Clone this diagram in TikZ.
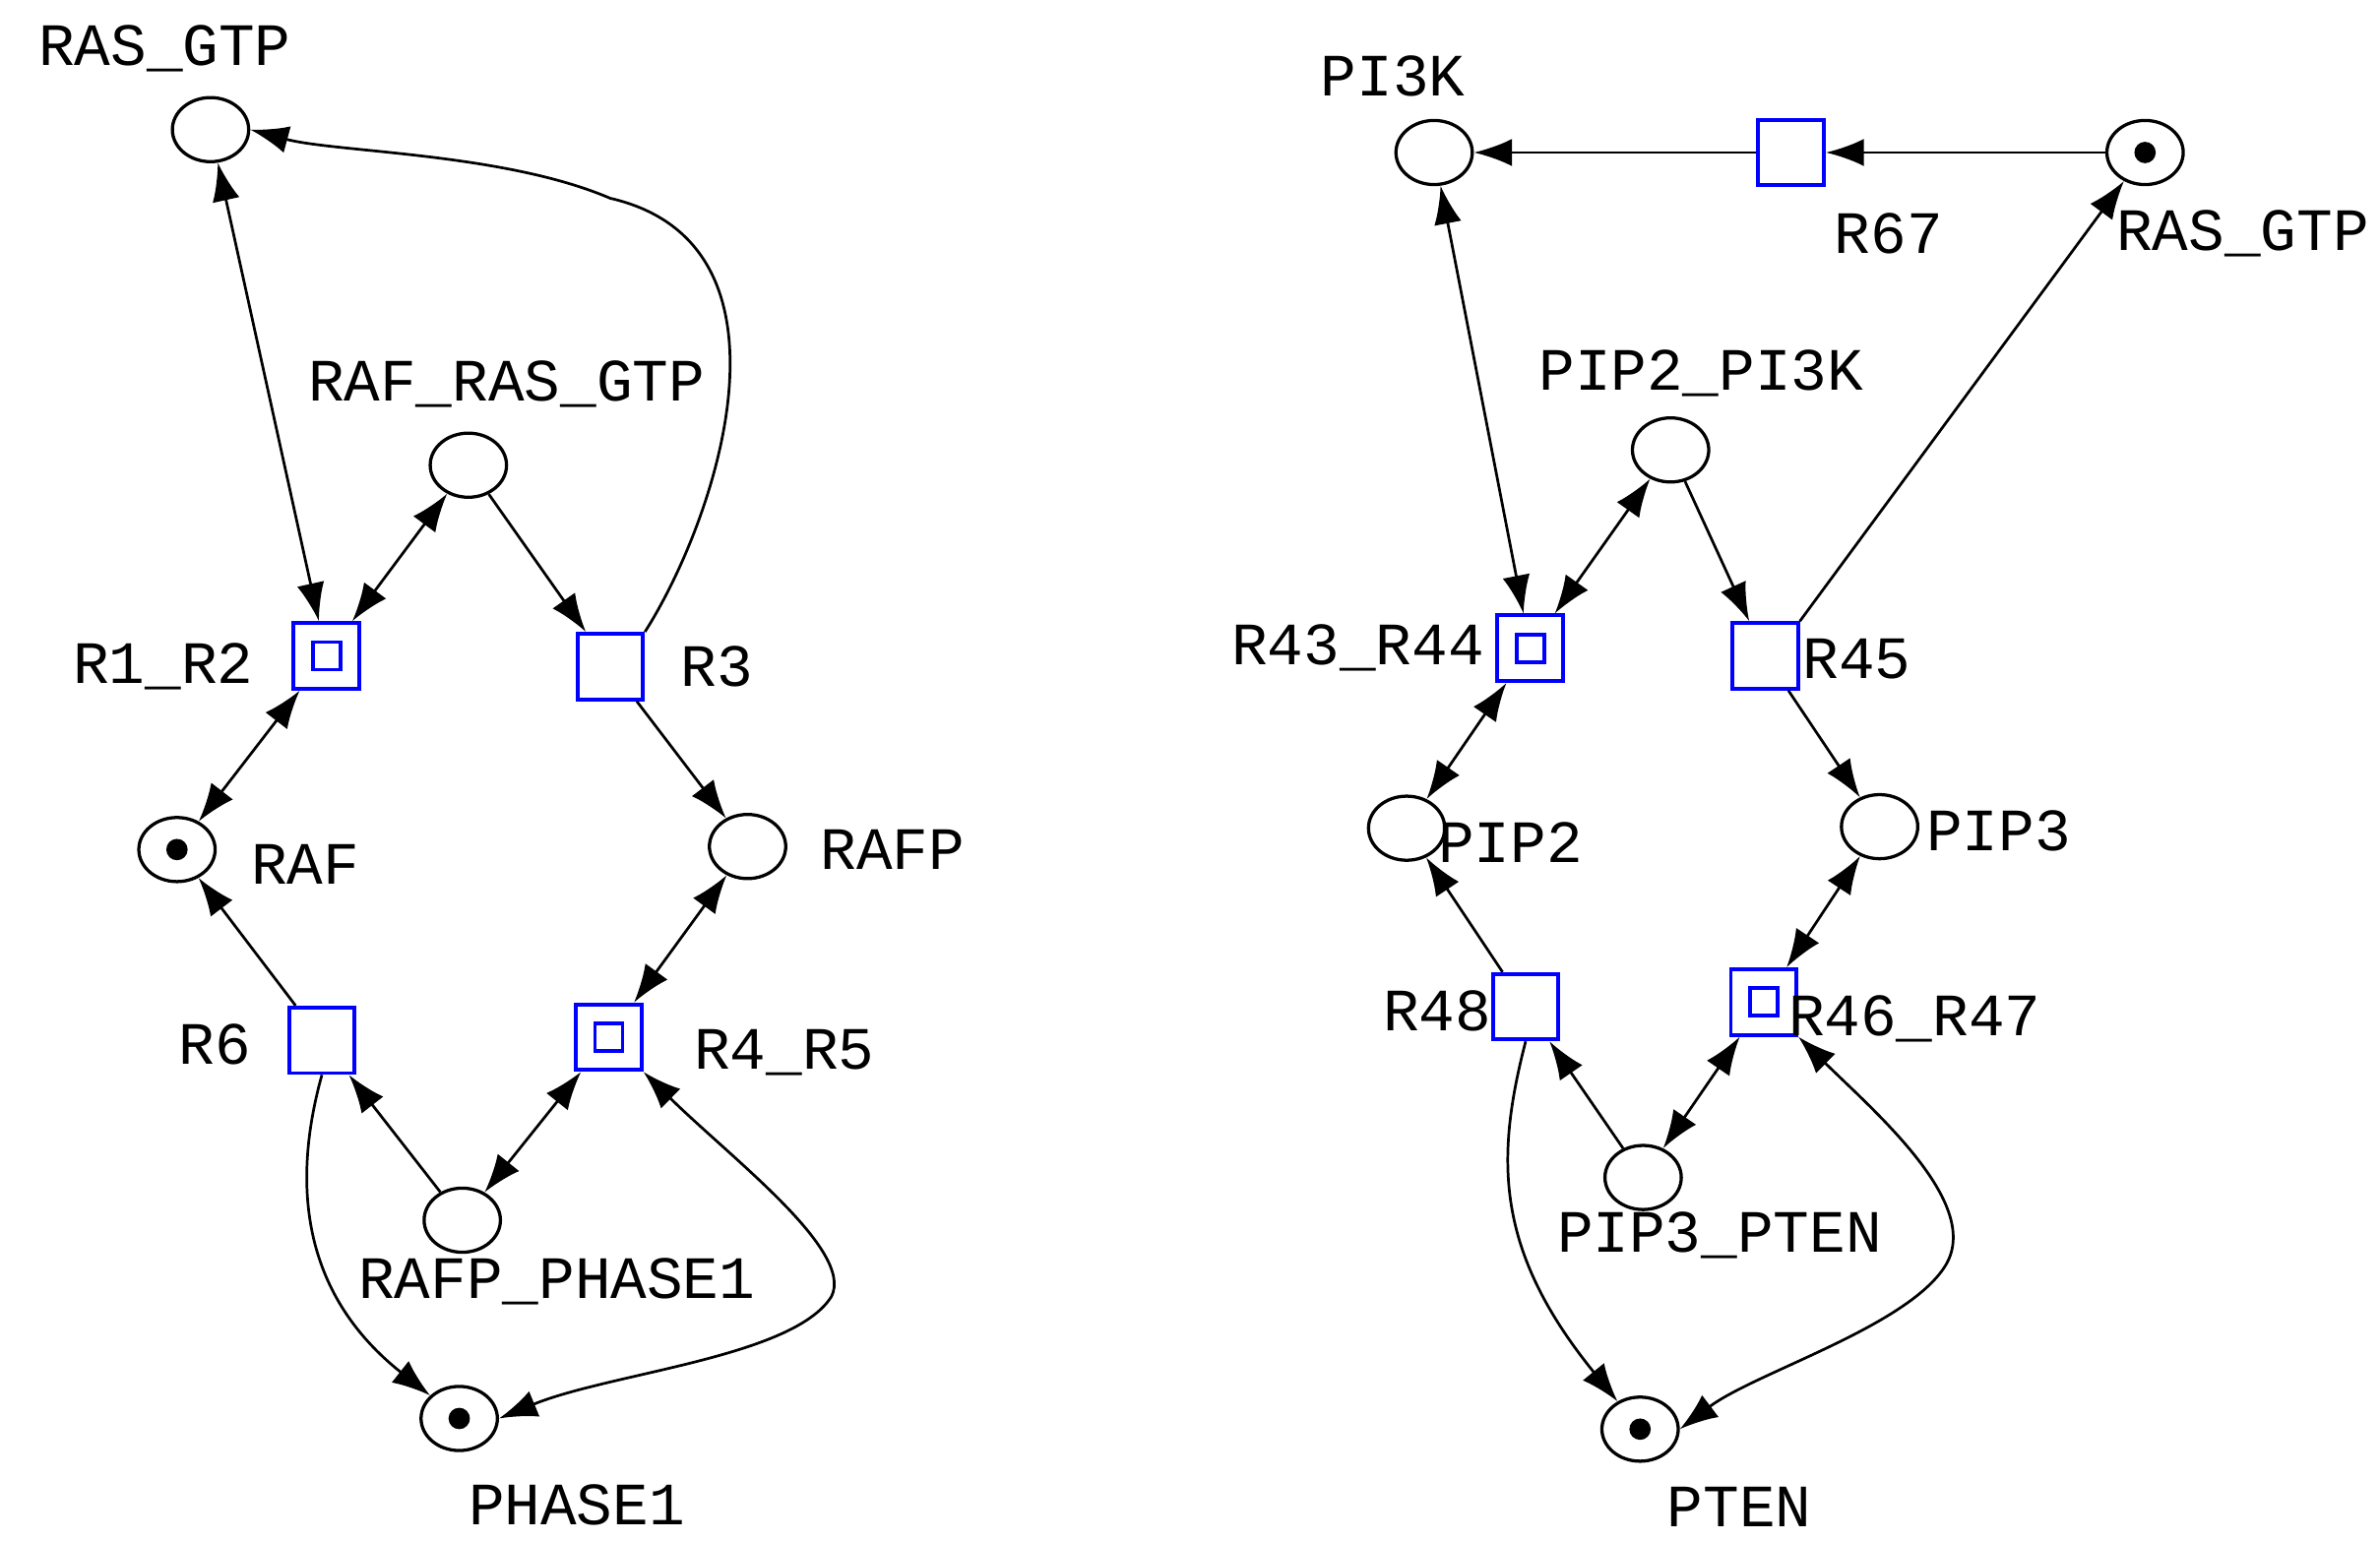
\documentclass[tikz,border=0pt]{standalone}
\usepackage{fontspec}
\setmainfont{Liberation Mono}
\usetikzlibrary{arrows.meta,shapes.geometric}
\begin{document}
\begin{tikzpicture}[x=0.01cm,y=-0.01cm,
 pl/.style={draw,ellipse,minimum width=0.5cm,minimum height=0.42cm,inner sep=0pt,line width=0.6pt},
 tk/.style={pl,path picture={\fill (path picture bounding box.center) circle (0.07cm);}},
 tr/.style={draw=blue,minimum size=0.43cm,inner sep=0pt,line width=0.7pt},
 dtr/.style={tr,path picture={\draw[blue,line width=0.7pt] ([shift={(-0.09cm,-0.09cm)}]path picture bounding box.center) rectangle ++(0.18cm,0.18cm);}},
 lb/.style={font=\fontsize{11.2}{12}\selectfont,inner sep=0pt},
 e/.style={-{Latex[length=0.25cm,width=0.18cm]},line width=0.5pt},
 b/.style={{Latex[length=0.25cm,width=0.18cm]}-{Latex[length=0.25cm,width=0.18cm]},line width=0.5pt}]
\useasboundingbox (0,0) rectangle (1560,1010);
% left net
\node[pl] (ras) at (138,85) {}; \node[lb] at (108,32) {RAS\_GTP};
\node[pl] (rrg) at (307,305) {}; \node[lb] at (332,252) {RAF\_RAS\_GTP};
\node[dtr] (r12) at (214,430) {}; \node[lb] at (107,437) {R1\_R2};
\node[tr] (r3) at (400,437) {}; \node[lb] at (470,437) {R3};
\node[tk] (raf) at (116,557) {}; \node[lb] at (200,567) {RAF};
\node[pl] (rafp) at (490,555) {}; \node[lb] at (585,557) {RAFP};
\node[tr] (r6) at (211,682) {}; \node[lb] at (141,685) {R6};
\node[dtr] (r45) at (399,680) {}; \node[lb] at (514,690) {R4\_R5};
\node[pl] (rph) at (303,800) {}; \node[lb] at (365,840) {RAFP\_PHASE1};
\node[tk] (ph) at (301,930) {}; \node[lb] at (378,987) {PHASE1};
\draw[b] (ras) -- (r12);
\draw[b] (rrg) -- (r12);
\draw[e] (rrg) -- (r3);
\draw[e] (r3.north east) .. controls (470,340) and (530,160) .. (400,130) .. controls (330,100) and (220,100) .. (ras.east);
\draw[b] (r12) -- (raf);
\draw[e] (r3) -- (rafp);
\draw[b] (rafp) -- (r45);
\draw[e] (r6) -- (raf);
\draw[e] (rph) -- (r6);
\draw[b] (rph) -- (r45);
\draw[e] (r6.south) .. controls (190,780) and (200,850) .. (ph);
\draw[b] (r45.south east) .. controls (480,760) and (560,820) .. (545,850) .. controls (520,890) and (400,900) .. (ph.east);
% right net
\node[pl] (pi3k) at (940,100) {}; \node[lb] at (913,50) {PI3K};
\node[tr] (r67) at (1174,100) {}; \node[lb] at (1238,153) {R67};
\node[tk] (ras2) at (1406,100) {}; \node[lb] at (1470,153) {RAS\_GTP};
\node[pl] (pp) at (1095,295) {}; \node[lb] at (1115,245) {PIP2\_PI3K};
\node[dtr] (r4344) at (1003,425) {}; \node[lb] at (890,425) {R43\_R44};
\node[tr] (r45b) at (1157,430) {}; \node[lb] at (1217,432) {R45};
\node[pl] (pip2) at (922,543) {}; \node[lb] at (990,552) {PIP2};
\node[pl] (pip3) at (1232,542) {}; \node[lb] at (1310,545) {PIP3};
\node[tr] (r48) at (1000,660) {}; \node[lb] at (942,663) {R48};
\node[dtr] (r4647) at (1156,657) {}; \node[lb] at (1255,668) {R46\_R47};
\node[pl] (ppt) at (1077,772) {}; \node[lb] at (1127,810) {PIP3\_PTEN};
\node[tk] (pten) at (1075,937) {}; \node[lb] at (1140,988) {PTEN};
\draw[e] (ras2) -- (r67);
\draw[e] (r67) -- (pi3k);
\draw[e] (r45b.north east) -- (ras2);
\draw[b] (pi3k) -- (r4344);
\draw[b] (pp) -- (r4344);
\draw[e] (pp) -- (r45b);
\draw[b] (r4344) -- (pip2);
\draw[e] (r45b) -- (pip3);
\draw[e] (r48) -- (pip2);
\draw[b] (pip3) -- (r4647);
\draw[e] (ppt) -- (r48);
\draw[b] (ppt) -- (r4647);
\draw[e] (r48.south) .. controls (980,760) and (980,820) .. (pten);
\draw[b] (r4647.south east) .. controls (1230,730) and (1300,790) .. (1275,830) .. controls (1250,870) and (1150,900) .. (pten.east);
\end{tikzpicture}
\end{document}
